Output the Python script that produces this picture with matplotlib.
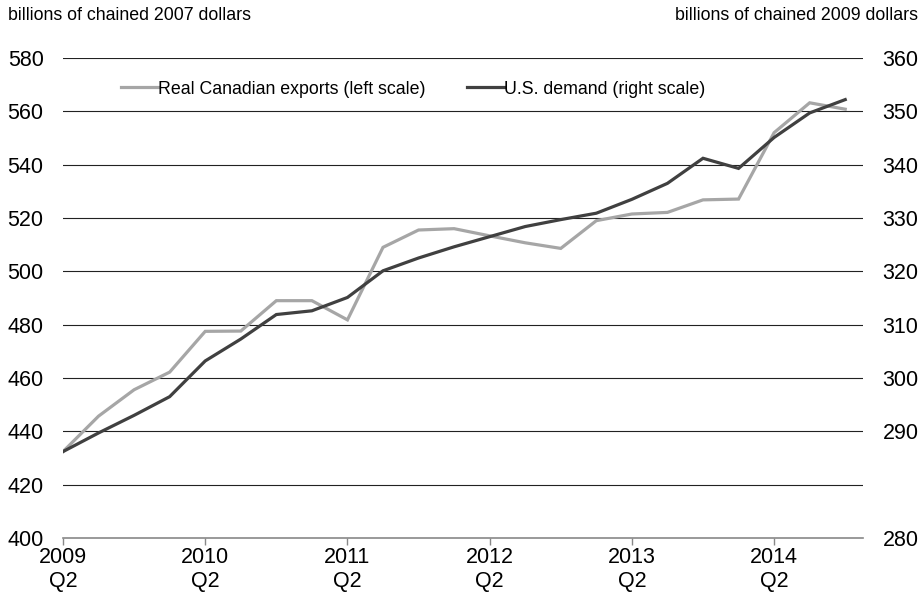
import matplotlib
matplotlib.use("Agg")
import matplotlib.pyplot as plt

plt.rcParams['font.family'] = ['Liberation Sans', 'DejaVu Sans']

# quarterly data, 2009 Q2 to 2014 Q4
quarters = list(range(23))
exports = [432.4, 445.7, 455.6, 462.2, 477.5, 477.6, 489.0, 489.0, 481.8, 509.0,
           515.5, 516.0, 513.3, 510.7, 508.6, 519.0, 521.5, 522.1, 526.8, 527.1,
           552.0, 563.2, 560.8]
us_demand = [286.2, 289.7, 293.0, 296.5, 303.2, 307.3, 311.9, 312.6, 315.1, 320.1,
             322.5, 324.6, 326.5, 328.4, 329.7, 330.9, 333.5, 336.5, 341.2, 339.3,
             345.1, 349.7, 352.2]

tick_pos = [0, 4, 8, 12, 16, 20]
tick_labels = ['2009\nQ2', '2010\nQ2', '2011\nQ2', '2012\nQ2', '2013\nQ2', '2014\nQ2']
left_ticks = [400, 420, 440, 460, 480, 500, 520, 540, 560, 580]
right_ticks = [270, 290, 300, 310, 320, 330, 340, 350, 360]
right_labels = ['280', '290', '300', '310', '320', '330', '340', '350', '360']

fig = plt.figure(figsize=(9.23, 6), dpi=100)
ax = fig.add_axes([63/923, 1 - 538/600, 800/923, 480/600])
ax2 = ax.twinx()

l1, = ax.plot(quarters, exports, color='#a6a6a6', lw=2.3, solid_joinstyle='miter',
              label='Real Canadian exports (left scale)')
l2, = ax2.plot(quarters, us_demand, color='#404040', lw=2.3, solid_joinstyle='miter',
               label='U.S. demand (right scale)')

ax.set_xlim(0, 22.5)
ax.set_ylim(400, 580)
ax2.set_ylim(270, 360)

ax.set_yticks(left_ticks)
ax.set_xticks(tick_pos)
ax.set_xticklabels(tick_labels)
ax2.set_yticks(right_ticks)
ax2.set_yticklabels(right_labels)

for y in left_ticks[1:]:
    ax.axhline(y, color='#222222', lw=0.8, zorder=0)

for a in (ax, ax2):
    for s in a.spines.values():
        s.set_visible(False)
ax.spines['bottom'].set_visible(True)
ax.spines['bottom'].set_color('#888888')
ax.spines['bottom'].set_linewidth(1.2)

ax.tick_params(axis='x', length=5, width=1, color='#888888', labelsize=15.5, pad=1.5)
ax.tick_params(axis='y', length=0, labelsize=15.5, pad=14)
ax2.tick_params(axis='y', length=0, labelsize=15.5, pad=14)

fig.text(0.009, 0.975, 'billions of chained 2007 dollars', fontsize=12.8, ha='left', va='center')
fig.text(0.995, 0.975, 'billions of chained 2009 dollars', fontsize=12.8, ha='right', va='center')

fig.legend(handles=[l1, l2], loc='center', bbox_to_anchor=(0.4475, 1 - 89/600), ncol=2,
           frameon=False, fontsize=12.8, handlelength=2.1, handletextpad=0.0,
           columnspacing=2.3)

fig.savefig('out.png', dpi=100)
